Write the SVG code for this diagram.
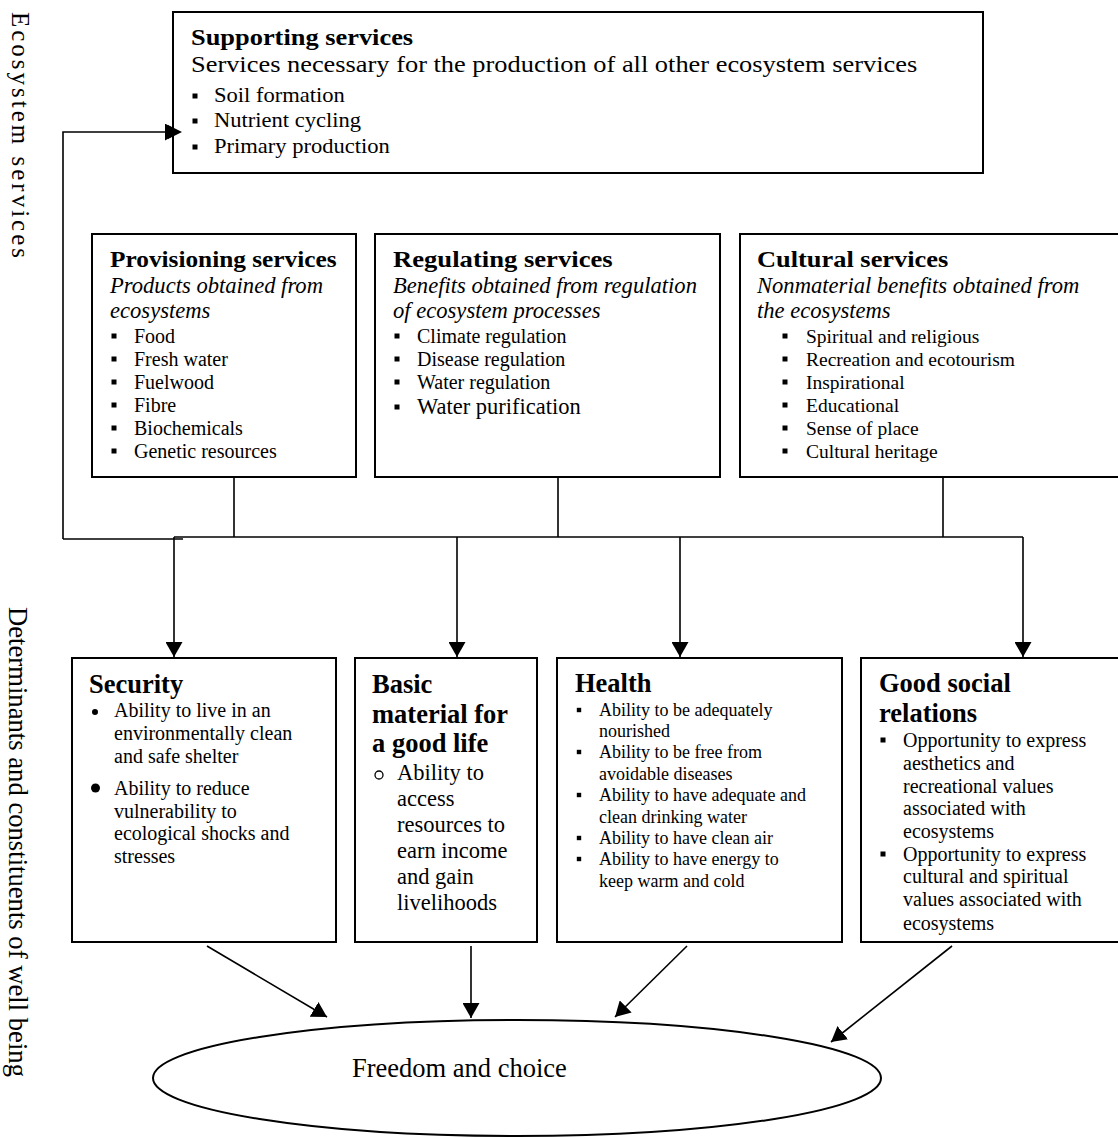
<svg xmlns="http://www.w3.org/2000/svg" width="1118" height="1138" viewBox="0 0 1118 1138">
<style>
.t{font-family:"Liberation Serif","Times New Roman",serif;fill:#000}
.b{font-weight:bold}
.i{font-style:italic}
.box{fill:#fff;stroke:#000;stroke-width:2}
.ln{fill:none;stroke:#000;stroke-width:1.6}
.sq{fill:#000}
</style>
<defs>
<marker id="ah" markerUnits="userSpaceOnUse" markerWidth="17" markerHeight="17" refX="15" refY="8.5" orient="auto">
<path d="M0,0 L15,8.5 L0,17 z" fill="#000"/>
</marker>
<rect id="sqb" x="-2.5" y="-2.5" width="5" height="5" class="sq"/>
<rect id="sqs" x="-2.2" y="-2.2" width="4.4" height="4.4" class="sq"/>
</defs>
<rect width="1118" height="1138" fill="#fff"/>

<text class="t" font-size="25" transform="translate(12 12) rotate(90)" textLength="246" lengthAdjust="spacing">Ecosystem services</text>
<text class="t" font-size="26.5" transform="translate(9 607) rotate(90)" textLength="470" lengthAdjust="spacingAndGlyphs">Determinants and constituents of well being</text>

<g id="connectors">
<polyline class="ln" points="63,539 63,132 180,132" marker-end="url(#ah)"/>
<line class="ln" x1="63" y1="539" x2="183" y2="539"/>
<line class="ln" x1="174" y1="537" x2="1023" y2="537"/>
<line class="ln" x1="234" y1="477" x2="234" y2="537"/>
<line class="ln" x1="558" y1="477" x2="558" y2="537"/>
<line class="ln" x1="943" y1="477" x2="943" y2="537"/>
<line class="ln" x1="174" y1="537" x2="174" y2="657" marker-end="url(#ah)"/>
<line class="ln" x1="457" y1="537" x2="457" y2="657" marker-end="url(#ah)"/>
<line class="ln" x1="680" y1="537" x2="680" y2="657" marker-end="url(#ah)"/>
<line class="ln" x1="1023" y1="537" x2="1023" y2="657" marker-end="url(#ah)"/>
<line class="ln" x1="207" y1="946" x2="327" y2="1017" marker-end="url(#ah)"/>
<line class="ln" x1="471" y1="946" x2="471" y2="1018" marker-end="url(#ah)"/>
<line class="ln" x1="687" y1="946" x2="615" y2="1017" marker-end="url(#ah)"/>
<line class="ln" x1="952" y1="946" x2="831" y2="1042" marker-end="url(#ah)"/>
</g>

<g id="supporting">
<rect class="box" x="173" y="12" width="810" height="161"/>
<text class="t b" font-size="24" transform="translate(191 45) scale(1.1 1)">Supporting services</text>
<text class="t" font-size="24" transform="translate(191 72) scale(1.1 1)">Services necessary for the production of all other ecosystem services</text>
<use href="#sqb" x="195" y="96"/>
<use href="#sqb" x="195" y="121"/>
<use href="#sqb" x="195" y="147"/>
<text class="t" font-size="20.5" transform="translate(214 102) scale(1.1 1)">Soil formation</text>
<text class="t" font-size="20.5" transform="translate(214 127) scale(1.1 1)">Nutrient cycling</text>
<text class="t" font-size="20.5" transform="translate(214 153) scale(1.1 1)">Primary production</text>
</g>
<path d="M168,125 L182,132 L168,139 z" fill="#000"/>

<g id="provisioning">
<rect class="box" x="92" y="234" width="264" height="243"/>
<text class="t b" font-size="24" transform="translate(110 267) scale(1.055 1)">Provisioning services</text>
<text class="t i" font-size="22.6" x="110" y="293">Products obtained from</text>
<text class="t i" font-size="22.6" x="110" y="318">ecosystems</text>
<use href="#sqb" x="114" y="336"/>
<use href="#sqb" x="114" y="359"/>
<use href="#sqb" x="114" y="382"/>
<use href="#sqb" x="114" y="405"/>
<use href="#sqb" x="114" y="428"/>
<use href="#sqb" x="114" y="451"/>
<text class="t" font-size="20" x="134" y="343">Food</text>
<text class="t" font-size="20" x="134" y="366">Fresh water</text>
<text class="t" font-size="20" x="134" y="389">Fuelwood</text>
<text class="t" font-size="20" x="134" y="412">Fibre</text>
<text class="t" font-size="20" x="134" y="435">Biochemicals</text>
<text class="t" font-size="20" x="134" y="458">Genetic resources</text>
</g>

<g id="regulating">
<rect class="box" x="375" y="234" width="345" height="243"/>
<text class="t b" font-size="24" transform="translate(393 267) scale(1.11 1)">Regulating services</text>
<text class="t i" font-size="22.6" x="393" y="293">Benefits obtained from regulation</text>
<text class="t i" font-size="22.6" x="393" y="318">of ecosystem processes</text>
<use href="#sqb" x="397" y="336"/>
<use href="#sqb" x="397" y="359"/>
<use href="#sqb" x="397" y="382"/>
<use href="#sqb" x="397" y="407"/>
<text class="t" font-size="20" x="417" y="343">Climate regulation</text>
<text class="t" font-size="20" x="417" y="366">Disease regulation</text>
<text class="t" font-size="20" x="417" y="389">Water regulation</text>
<text class="t" font-size="22.5" x="417" y="414">Water purification</text>
</g>

<g id="cultural">
<rect class="box" x="740" y="234" width="390" height="243"/>
<text class="t b" font-size="24" transform="translate(757 267) scale(1.1 1)">Cultural services</text>
<text class="t i" font-size="22.6" x="757" y="293">Nonmaterial benefits obtained from</text>
<text class="t i" font-size="22.6" x="757" y="318">the ecosystems</text>
<use href="#sqb" x="785" y="336"/>
<use href="#sqb" x="785" y="359"/>
<use href="#sqb" x="785" y="382"/>
<use href="#sqb" x="785" y="405"/>
<use href="#sqb" x="785" y="428"/>
<use href="#sqb" x="785" y="451"/>
<text class="t" font-size="19.5" x="806" y="343">Spiritual and religious</text>
<text class="t" font-size="19.5" x="806" y="366">Recreation and ecotourism</text>
<text class="t" font-size="19.5" x="806" y="389">Inspirational</text>
<text class="t" font-size="19.5" x="806" y="412">Educational</text>
<text class="t" font-size="19.5" x="806" y="435">Sense of place</text>
<text class="t" font-size="19.5" x="806" y="458">Cultural heritage</text>
</g>

<g id="security">
<rect class="box" x="72" y="658" width="264" height="284"/>
<text class="t b" font-size="26.5" x="89" y="693">Security</text>
<circle cx="95" cy="712" r="3" fill="#000"/>
<circle cx="95.5" cy="788" r="4.5" fill="#000"/>
<text class="t" font-size="20" x="114" y="717">Ability to live in an</text>
<text class="t" font-size="20" x="114" y="740">environmentally clean</text>
<text class="t" font-size="20" x="114" y="763">and safe shelter</text>
<text class="t" font-size="20" x="114" y="795">Ability to reduce</text>
<text class="t" font-size="20" x="114" y="818">vulnerability to</text>
<text class="t" font-size="20" x="114" y="840">ecological shocks and</text>
<text class="t" font-size="20" x="114" y="863">stresses</text>
</g>

<g id="basic">
<rect class="box" x="355" y="658" width="182" height="284"/>
<text class="t b" font-size="26.5" x="372" y="693">Basic</text>
<text class="t b" font-size="26.5" x="372" y="723">material for</text>
<text class="t b" font-size="26.5" x="372" y="752">a good life</text>
<circle cx="379" cy="775" r="4" fill="none" stroke="#000" stroke-width="1.3"/>
<text class="t" font-size="22.5" x="397" y="780">Ability to</text>
<text class="t" font-size="22.5" x="397" y="806">access</text>
<text class="t" font-size="22.5" x="397" y="832">resources to</text>
<text class="t" font-size="22.5" x="397" y="858">earn income</text>
<text class="t" font-size="22.5" x="397" y="884">and gain</text>
<text class="t" font-size="22.5" x="397" y="910">livelihoods</text>
</g>

<g id="health">
<rect class="box" x="557" y="658" width="285" height="284"/>
<text class="t b" font-size="26.5" x="575" y="692">Health</text>
<use href="#sqs" x="579" y="710"/>
<use href="#sqs" x="579" y="752"/>
<use href="#sqs" x="579" y="795"/>
<use href="#sqs" x="579" y="838"/>
<use href="#sqs" x="579" y="859"/>
<text class="t" font-size="18" x="599" y="716">Ability to be adequately</text>
<text class="t" font-size="18" x="599" y="737">nourished</text>
<text class="t" font-size="18" x="599" y="758">Ability to be free from</text>
<text class="t" font-size="18" x="599" y="780">avoidable diseases</text>
<text class="t" font-size="18" x="599" y="801">Ability to have adequate and</text>
<text class="t" font-size="18" x="599" y="823">clean drinking water</text>
<text class="t" font-size="18" x="599" y="844">Ability to have clean air</text>
<text class="t" font-size="18" x="599" y="865">Ability to have energy to</text>
<text class="t" font-size="18" x="599" y="887">keep warm and cold</text>
</g>

<g id="social">
<rect class="box" x="861" y="658" width="270" height="284"/>
<text class="t b" font-size="26.5" x="879" y="692">Good social</text>
<text class="t b" font-size="26.5" x="879" y="722">relations</text>
<use href="#sqb" x="883" y="740"/>
<use href="#sqb" x="883" y="854"/>
<text class="t" font-size="20" x="903" y="747">Opportunity to express</text>
<text class="t" font-size="20" x="903" y="770">aesthetics and</text>
<text class="t" font-size="20" x="903" y="793">recreational values</text>
<text class="t" font-size="20" x="903" y="815">associated with</text>
<text class="t" font-size="20" x="903" y="838">ecosystems</text>
<text class="t" font-size="20" x="903" y="861">Opportunity to express</text>
<text class="t" font-size="20" x="903" y="883">cultural and spiritual</text>
<text class="t" font-size="20" x="903" y="906">values associated with</text>
<text class="t" font-size="20" x="903" y="930">ecosystems</text>
</g>

<g id="freedom">
<ellipse cx="517" cy="1078" rx="364" ry="58" fill="#fff" stroke="#000" stroke-width="2"/>
<text class="t" font-size="26.5" x="352" y="1077">Freedom and choice</text>
</g>
</svg>
